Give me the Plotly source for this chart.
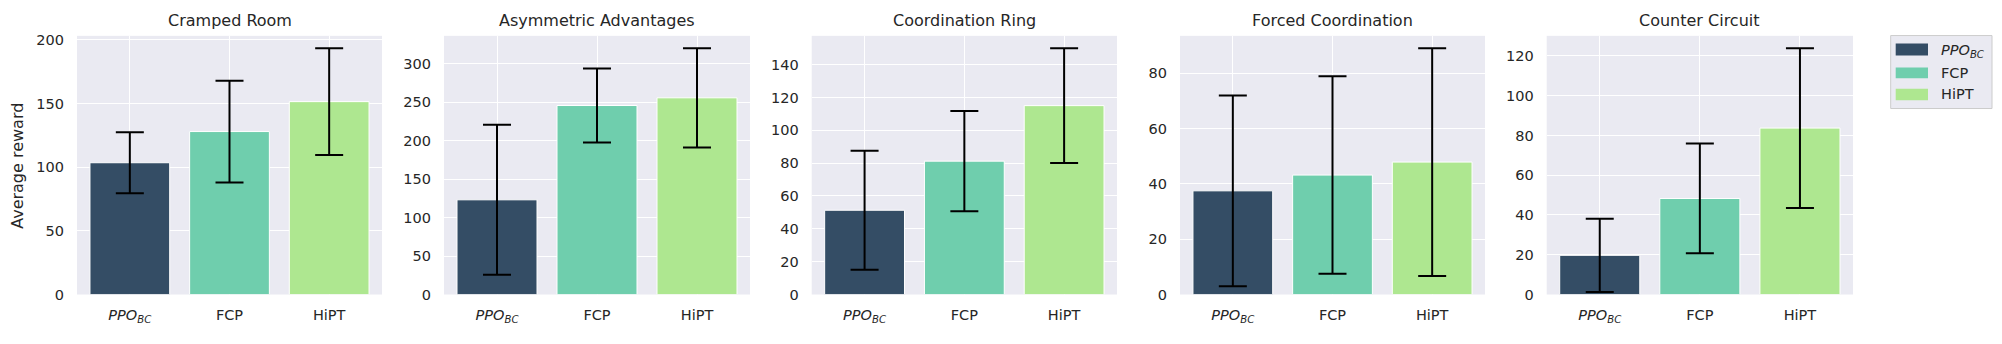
import plotly.graph_objects as go

envs = ["Cramped Room", "Asymmetric Advantages", "Coordination Ring", "Forced Coordination", "Counter Circuit"]
methods = ["<i>PPO<sub>BC</sub></i>", "FCP", "HiPT"]
ppo_mean = [103.5, 123.0, 51.3, 37.5, 19.7]
ppo_err = [24.0, 97.5, 36.3, 34.5, 18.4]
fcp_mean = [128.0, 245.5, 81.2, 43.2, 48.3]
fcp_err = [40.0, 48.0, 30.5, 35.7, 27.6]
hipt_mean = [151.5, 255.5, 115.0, 47.9, 83.7]
hipt_err = [42.0, 64.5, 35.0, 41.2, 40.2]
y_dticks = [50, 50, 20, 20, 20]

colors = ["#344d65", "#6fcead", "#aee790"]
means = [ppo_mean, fcp_mean, hipt_mean]
errs = [ppo_err, fcp_err, hipt_err]

W, H = 2002, 344
panel_px = [(77, 382), (444, 750), (811.7, 1117), (1180, 1485), (1546.7, 1853)]
top_px, bot_px = 33, 301
txt = "#262626"
font_family = "DejaVu Sans"


def px_x(v):
    return v / W


def px_y(v):
    return 1 - v / H


fig = go.Figure()
layout = dict(
    width=W, height=H, margin=dict(l=0, r=0, t=0, b=0),
    paper_bgcolor="white", plot_bgcolor="#EAEAF2",
    font=dict(family=font_family, color=txt, size=14.5),
    showlegend=False, hovermode=False,
)
annotations = []
shapes = []
for p, env in enumerate(envs):
    ax = "" if p == 0 else str(p + 1)
    x0, x1 = panel_px[p]
    ymax = max(m[p] + e[p] for m, e in zip(means, errs)) * 1.05
    layout["xaxis" + ax] = dict(
        domain=[px_x(x0), px_x(x1)], anchor="y" + ax, range=[-0.53, 2.53],
        tickvals=[0, 1, 2], ticktext=methods, showgrid=True, gridcolor="white", gridwidth=1,
        zeroline=False, showline=False, ticks="", ticklabelstandoff=10,
        tickfont=dict(size=14.5, color=txt), fixedrange=True,
    )
    layout["yaxis" + ax] = dict(
        domain=[px_y(bot_px), px_y(top_px)], anchor="x" + ax, range=[0, ymax],
        dtick=y_dticks[p], tick0=0, showgrid=True, gridcolor="white", gridwidth=1,
        zeroline=False, showline=False, ticks="", ticklabelstandoff=12,
        tickfont=dict(size=14.5, color=txt), fixedrange=True,
    )
    for k in range(3):
        fig.add_trace(go.Bar(
            x=[k], y=[means[k][p]], width=0.8, name=methods[k],
            marker=dict(color=colors[k], line=dict(color="white", width=1)),
            error_y=dict(type="data", array=[errs[k][p]], color="black", thickness=2, width=14),
            xaxis="x" + ax, yaxis="y" + ax, showlegend=False,
        ))
    annotations.append(dict(
        text=env, x=px_x((x0 + x1) / 2), y=px_y(17.5), xref="paper", yref="paper",
        xanchor="center", yanchor="middle", showarrow=False, font=dict(size=16, color=txt),
    ))

annotations.append(dict(
    text="Average reward", x=px_x(16.7), y=px_y(168), xref="paper", yref="paper",
    xanchor="center", yanchor="middle", showarrow=False, textangle=-90,
    font=dict(size=16, color=txt),
))

# legend drawn as a box with swatches and text
leg_box = (1890.7, 32.7, 1992, 108.3)
shapes.append(dict(
    type="rect", xref="paper", yref="paper",
    x0=px_x(leg_box[0]), x1=px_x(leg_box[2]), y0=px_y(leg_box[3]), y1=px_y(leg_box[1]),
    fillcolor="#EAEAF2", line=dict(color="#CCCCCC", width=1), layer="above",
))
sw_rows = [(41, 53.3, 46.5), (65.7, 77, 71.2), (87.7, 99.7, 93)]
for k, (sy0, sy1, ty) in enumerate(sw_rows):
    shapes.append(dict(
        type="rect", xref="paper", yref="paper",
        x0=px_x(1895.7), x1=px_x(1928), y0=px_y(sy1), y1=px_y(sy0),
        fillcolor=colors[k], line=dict(width=0), layer="above",
    ))
    annotations.append(dict(
        text=methods[k], x=px_x(1939), y=px_y(ty + (2.5 if k == 0 else 0)), xref="paper", yref="paper",
        xanchor="left", yanchor="middle", showarrow=False, font=dict(size=14.5, color=txt),
    ))

layout["annotations"] = annotations
layout["shapes"] = shapes
fig.update_layout(**layout)
fig.write_html(
    "out.html",
    config={"displayModeBar": False, "staticPlot": True},
    post_script="document.body.style.margin='0';document.body.style.overflow='hidden';",
)
